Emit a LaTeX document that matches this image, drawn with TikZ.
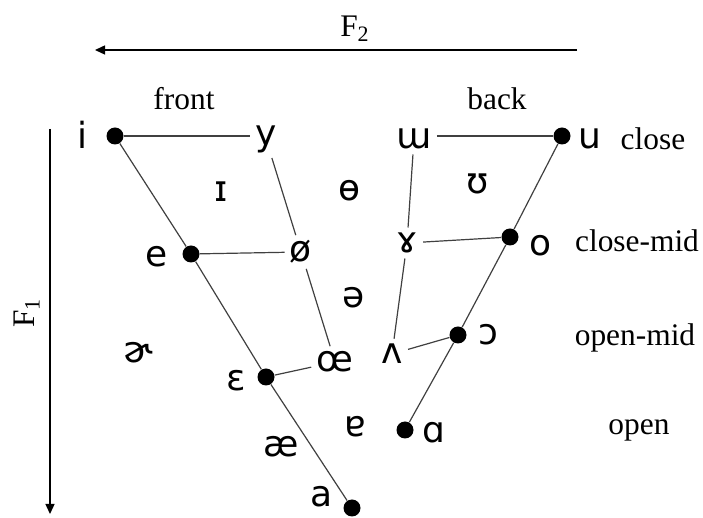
\documentclass[tikz,border=0pt]{standalone}
\usepackage{fontspec}
\setmainfont{Liberation Serif}
\newfontfamily\ipafont{DejaVu Sans}
\usetikzlibrary{arrows.meta}

\begin{document}
\begin{tikzpicture}[
		x=0.5pt, y=-0.5pt,
		vdot/.style={circle, fill=black, inner sep=0pt, minimum size=8.5pt},
		vow/.style={inner sep=2.5pt, font=\ipafont\fontsize{18}{20}\selectfont},
		lab/.style={inner sep=0pt, font=\fontsize{15.7}{18}\selectfont},
		link/.style={draw=black!75, line width=0.6pt},
		axis/.style={draw, line width=0.7pt, -{Triangle[length=5pt,width=4.5pt]}}
		]
		
		\useasboundingbox (0,0) rectangle (703,518);
		
		% axes
		\coordinate (f2s) at (577,50);
		\coordinate (f2e) at (95,50);
		\coordinate (f1s) at (50,129);
		\coordinate (f1e) at (50,514);
		\draw[axis] (f2s) -- (f2e);
		\draw[axis] (f1s) -- (f1e);
		\node[lab] (F2) at (355,29) {F\textsubscript{2}};
		\node[lab, rotate=90] (F1) at (27,313) {F\textsubscript{1}};
		
		% column and row labels
		\node[lab] (front) at (184,99) {front};
		\node[lab] (back) at (497,99) {back};
		\node[lab] (close) at (653,139) {close};
		\node[lab] (closemid) at (637,241) {close-mid};
		\node[lab] (openmid) at (635,338) {open-mid};
		\node[lab] (open) at (639,430) {open};
		
		% cardinal vowels (dots)
		\node[vdot] (i) at (115,136) {};
		\node[vdot] (u) at (562,136) {};
		\node[vdot] (e) at (191,254) {};
		\node[vdot] (o) at (510,237) {};
		\node[vdot] (eps) at (266,377) {};
		\node[vdot] (oopen) at (458,335) {};
		\node[vdot] (alpha) at (405,430) {};
		\node[vdot] (a) at (352,508) {};
		
		\node[vow] (i-t) at (83,135) {i};
		\node[vow] (u-t) at (590,139) {u};
		\node[vow] (e-t) at (157,257) {e};
		\node[vow] (o-t) at (541,246) {o};
		\node[vow] (eps-t) at (236,381) {ɛ};
		\node[vow] (oopen-t) at (488,335) {ɔ};
		\node[vow] (alpha-t) at (434,433) {ɑ};
		\node[vow, inner sep=0pt] (a-t) at (322,497) {a};
		
		% other vowels
		\node[vow] (y) at (266,139) {y};
		\node[vow] (w) at (414,139) {ɯ};
		\node[vow] (I) at (221,192) {ɪ};
		\node[vow] (th) at (350,191) {ɵ};
		\node[vow] (U) at (478,184) {ʊ};
		\node[vow] (oslash) at (301,252) {ø};
		\node[vow] (ram) at (407,243) {ɤ};
		\node[vow] (schwa) at (354,298) {ə};
		\node[vow] (rhot) at (138,353) {ɚ};
		\node[vow] (oelig) at (335,362) {œ};
		\node[vow] (wedge) at (392,354) {ʌ};
		\node[vow] (turna) at (355,427) {ɐ};
		\node[vow] (ae) at (281,447) {æ};
		
		% trapezium
		\draw[link] (i) -- (e) -- (eps) -- (a);
		\draw[link] (u) -- (o) -- (oopen) -- (alpha);
		\draw[link] (i) -- (i -| y.west);
		\draw[link] (u -| w.east) -- (u);
		\draw[link] (e) -- (oslash);
		\draw[link] (ram) -- (o);
		\draw[link] (eps) -- (oelig);
		\draw[link] (wedge) -- (oopen);
		\draw[link] (y) -- (oslash) -- (oelig);
		\draw[link] (w) -- (ram) -- (wedge);
		
	\end{tikzpicture}
\end{document}
